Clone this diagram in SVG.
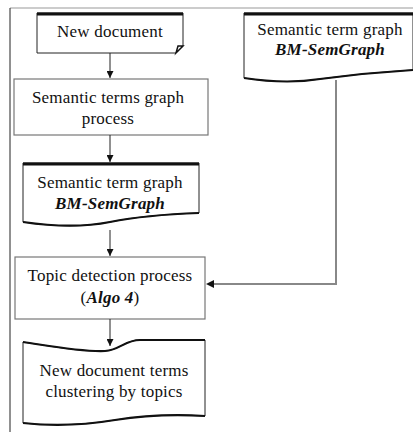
<svg xmlns="http://www.w3.org/2000/svg" width="413" height="432" viewBox="0 0 413 432">
  <style>
    .t { font-family: "Liberation Serif", "Times New Roman", serif; font-size: 17px; letter-spacing: 0.2px; fill: #111; text-anchor: middle; }
    .i { font-style: italic; font-weight: bold; }
    .box { fill: #fff; stroke: #777; stroke-width: 1.2; }
    .doc { fill: #fff; stroke: #222; stroke-width: 1; }
    .thick { stroke: #111; stroke-width: 3; fill: none; }
    .wave { fill: none; stroke: #111; stroke-width: 2.2; }
    .conn { fill: none; stroke: #222; stroke-width: 1; }
    .gconn { fill: none; stroke: #888; stroke-width: 2; }
  </style>
  <defs>
    <marker id="arr" viewBox="0 0 10 10" refX="10" refY="5" markerWidth="7" markerHeight="7" orient="auto" markerUnits="userSpaceOnUse">
      <path d="M0,0 L10,5 L0,10 Z" fill="#111"/>
    </marker>
  </defs>
  <rect width="413" height="432" fill="#fff"/>

  <!-- outer frame -->
  <g id="frame">
    <line x1="10" y1="8" x2="413" y2="8" stroke="#999" stroke-width="1"/>
    <line x1="10" y1="8" x2="10" y2="432" stroke="#222" stroke-width="1"/>
  </g>

  <!-- New document -->
  <g id="new-document">
    <path class="doc" d="M37,13 H183 V46 L176,53 H37 Z"/>
    <line class="thick" x1="37" y1="14" x2="183" y2="14"/>
    <path d="M176,53 L178,46 L183,46 Z" fill="#fff" stroke="#111" stroke-width="1.5"/>
    <text class="t" x="110" y="37">New document</text>
  </g>

  <!-- Semantic terms graph process -->
  <g id="terms-process">
    <rect class="box" x="14" y="79" width="194" height="56"/>
    <text class="t" x="108" y="103">Semantic terms graph</text>
    <text class="t" x="108" y="124">process</text>
  </g>

  <!-- Semantic term graph (left) -->
  <g id="semgraph-left">
    <path class="doc" d="M23,163 H199 V213 C170,214 140,216 110,222 C80,228 50,226 23,222 Z"/>
    <line class="thick" x1="23" y1="164" x2="199" y2="164"/>
    <path class="wave" d="M199,213 C170,214 140,216 110,222 C80,228 50,226 23,222"/>
    <text class="t" x="110" y="188">Semantic term graph</text>
    <text class="t i" x="110" y="209">BM-SemGraph</text>
  </g>

  <!-- Semantic term graph (right) -->
  <g id="semgraph-right">
    <path class="doc" d="M244,13 H413 V70 C380,72 350,75 320,79 C295,83 270,82 244,78 Z"/>
    <line class="thick" x1="244" y1="14" x2="413" y2="14"/>
    <path class="wave" d="M413,70 C380,72 350,75 320,79 C295,83 270,82 244,78"/>
    <text class="t" x="330" y="35">Semantic term graph</text>
    <text class="t i" x="330" y="55">BM-SemGraph</text>
  </g>

  <!-- Topic detection process -->
  <g id="topic-detection">
    <rect class="box" x="15" y="257" width="190" height="62"/>
    <text class="t" x="110" y="281">Topic detection process</text>
    <text class="t" x="110" y="303">(<tspan class="i">Algo 4</tspan>)</text>
  </g>

  <!-- Clustering result -->
  <g id="clustering">
    <path class="doc" d="M23,342 C50,346 80,352 105,351 C120,350 125,340 140,340 H205 V416 C170,414 140,416 115,420 C85,425 50,426 23,423 Z"/>
    <path class="wave" d="M23,342 C50,346 80,352 105,351 C120,350 125,340 140,340 H205"/>
    <path class="wave" d="M205,416 C170,414 140,416 115,420 C85,425 50,426 23,423"/>
    <text class="t" x="114" y="376">New document terms</text>
    <text class="t" x="114" y="397">clustering by topics</text>
  </g>

  <!-- connectors -->
  <g id="connectors">
    <line class="conn" x1="110" y1="53" x2="110" y2="78" marker-end="url(#arr)"/>
    <line class="conn" x1="110" y1="135" x2="110" y2="162" marker-end="url(#arr)"/>
    <line class="conn" x1="110" y1="230" x2="110" y2="256" marker-end="url(#arr)"/>
    <line class="conn" x1="110" y1="319" x2="110" y2="346" marker-end="url(#arr)"/>
    <path class="gconn" d="M336,80 V284 H212"/>
    <path d="M206,284 L214,280 L214,288 Z" fill="#111"/>
  </g>
</svg>
